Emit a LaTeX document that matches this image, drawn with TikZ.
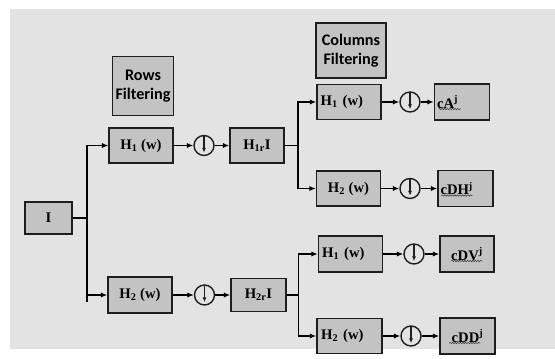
\documentclass[tikz,border=0pt]{standalone}
\usepackage{fontspec}
\setmainfont{Liberation Serif}
\newfontfamily\labfont{Carlito}
\usepackage{tikz}
\usetikzlibrary{positioning, arrows.meta, calc, decorations.pathmorphing}
\definecolor{bggray}{HTML}{E3E3E3}
\definecolor{boxgray}{HTML}{C3C3C3}
\definecolor{edgegray}{HTML}{1E1E1E}

\begin{document}
\begin{tikzpicture}[
  x=0.03cm, y=-0.03cm,
  wh/.style 2 args={minimum width=#1*0.03cm, minimum height=#2*0.03cm},
  blk/.style={draw=edgegray, fill=boxgray, line width=1.2pt, inner sep=1pt,
    font=\bfseries\fontsize{12.5}{14}\selectfont},
  lab/.style={draw=edgegray, fill=boxgray, line width=1.2pt, inner sep=1pt, align=center,
    font=\labfont\bfseries\fontsize{13.8}{16.5}\selectfont},
  dwn/.style={circle, draw=edgegray, line width=1.2pt, minimum size=0.6cm, inner sep=0pt,
    path picture={\draw[line width=1.1pt, -{Latex[length=4pt,width=3.5pt]}]
      (path picture bounding box.north) -- ([yshift=2.5pt]path picture bounding box.south);}},
  arr/.style={line width=1.2pt, -{Latex[length=5.5pt,width=4.5pt]}},
  ln/.style={line width=1.2pt},
  squig/.style={draw=black!75, line width=0.5pt, decorate,
    decoration={snake, amplitude=0.6pt, segment length=2.2pt}},
]
% Fond
\useasboundingbox (0,0) rectangle (555,358);
\fill[bggray] (10,9) rectangle (555,349);

% Titres
\node[lab, wh={61}{59}] (rows) at (143,86) {Rows\\Filtering};
\node[lab, wh={70}{55}] (cols) at (351,50.5) {Columns\\Filtering};

% Entree
\node[blk, wh={47}{32}] (I) at (48.5,218) {I};

% Filtrage des lignes
\node[blk, wh={64}{35}] (r1) at (141,145.5) {H\textsubscript{1} (w)};
\node[dwn] (c1) at (204,145.5) {};
\node[blk, wh={54}{35}] (L1) at (257,145.5) {H\textsubscript{1r}I};

\node[blk, wh={64}{36}] (r2) at (140,295) {H\textsubscript{2} (w)};
\node[dwn] (c2) at (204.5,295) {};
\node[blk, wh={55}{33}] (L2) at (258.5,295) {H\textsubscript{2r}I};

% Filtrage des colonnes
\node[blk, wh={64}{35}, text width=1.7cm, align=left] (a1) at (349,102) {H\textsubscript{1} (w)};
\node[dwn] (ca) at (410,102) {};
\node[blk, wh={55}{36}, text width=1.5cm, align=left] (oA) at (462,102) {cA\textsuperscript{j}};

\node[blk, wh={64}{35}] (a2) at (348.5,188.5) {H\textsubscript{2} (w)};
\node[dwn] (cb) at (410,188.5) {};
\node[blk, wh={55}{36}, text width=1.5cm, align=left] (oH) at (465.5,188.5) {cDH\textsuperscript{j}};

\node[blk, wh={64}{36}, text width=1.7cm, align=left] (a3) at (350.5,254) {H\textsubscript{1} (w)};
\node[dwn] (cc) at (414,254) {};
\node[blk, wh={54}{36}] (oV) at (467,254) {cDV\textsuperscript{j}};

\node[blk, wh={65}{35}, text width=1.7cm, align=left] (a4) at (349.5,336) {H\textsubscript{2} (w)};
\node[dwn] (cd) at (411,336) {};
\node[blk, wh={55}{36}] (oD) at (467.5,336) {cDD\textsuperscript{j}};

% Soulignements ondules
\draw[squig] ($(oA.west)+(5,7)$) -- ($(oA.west)+(27,7)$);
\draw[squig] ($(oH.west)+(4,7)$) -- ($(oH.west)+(35,7)$);
\draw[squig] ($(oV.west)+(12,7)$) -- ($(oV.west)+(43,7)$);
\draw[squig] ($(oD.west)+(10,7)$) -- ($(oD.west)+(41,7)$);

% Embranchements
\coordinate (s0) at (87,218);
\coordinate (stub) at (87,302);
\coordinate (s1) at (298,145.5);
\coordinate (s2) at (298.5,295);

\draw[ln] (I) -- (s0);
\draw[ln] (s0) -- (stub);
\draw[arr] (s0) |- (r1);
\draw[arr] (s0) |- (r2);

\draw[ln] (L1) -- (s1);
\draw[arr] (s1) |- (a1);
\draw[arr] (s1) |- (a2);
\draw[ln] (L2) -- (s2);
\draw[arr] (s2) |- (a3);
\draw[arr] (s2) |- (a4);

% Chaines
\foreach \a/\b/\c in {r1/c1/L1, r2/c2/L2, a1/ca/oA, a2/cb/oH, a3/cc/oV, a4/cd/oD} {
  \draw[arr] (\a) -- (\b);
  \draw[arr] (\b) -- (\c);
}

\end{tikzpicture}
\end{document}
